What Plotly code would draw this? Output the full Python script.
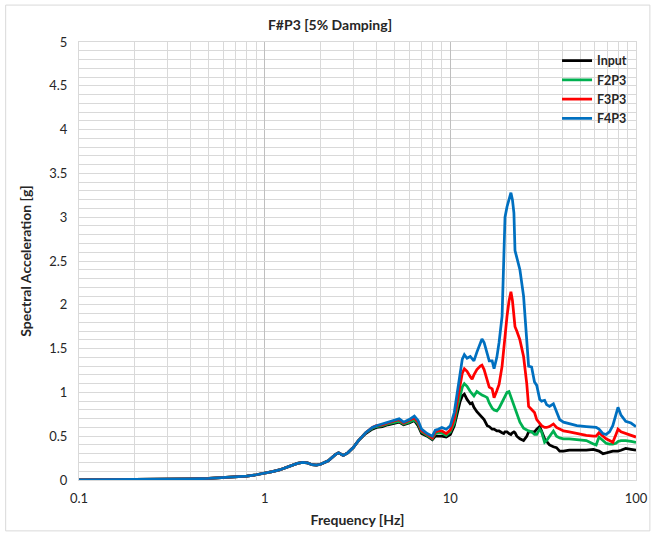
import plotly.graph_objects as go

# ---------------- data ----------------
freq_hz = [
    0.1, 0.15, 0.2, 0.3, 0.4, 0.5, 0.6, 0.7, 0.8, 0.9,
    1.0, 1.1, 1.2, 1.3, 1.4, 1.5, 1.6, 1.7, 1.8, 1.9,
    2.0, 2.2, 2.4, 2.5, 2.65, 2.8, 3.0, 3.2, 3.5, 3.8,
    4.0, 4.3, 4.6, 5.0, 5.3, 5.6, 6.0, 6.4, 6.7, 7.0,
    7.5, 8.0, 8.3, 8.6,
    9.0, 9.5, 10.0, 10.5, 10.9, 11.3, 11.6, 11.9, 12.3, 12.8,
    13.1, 13.4, 13.9, 14.5, 14.8, 15.2, 15.8, 16.2, 16.8, 17.2,
    17.8, 18.3, 19.0, 19.4, 19.7, 20.2, 20.7, 21.2, 21.6, 22.0,
    22.3, 22.8, 23.7, 24.8, 25.8, 26.4, 27.4, 28.4, 29.2, 30.3,
    31.0, 32.2, 33.0, 34.2, 35.9, 37.3, 38.8, 40.7, 43.7, 48.0,
    54.0, 59.0, 61.0, 63.2, 66.4, 69.0, 72.0, 75.0, 78.0, 80.0,
    83.0, 88.0, 94.0, 100.0,
]

input_g = [
    0.002, 0.003, 0.005, 0.008, 0.012, 0.018, 0.026, 0.035, 0.045, 0.060,
    0.075, 0.095, 0.115, 0.14, 0.165, 0.19, 0.20, 0.195, 0.175, 0.17,
    0.18, 0.22, 0.29, 0.31, 0.28, 0.31, 0.37, 0.45, 0.53, 0.58,
    0.60, 0.61, 0.63, 0.65, 0.66, 0.63, 0.65, 0.68, 0.62, 0.53,
    0.50, 0.46, 0.50, 0.50,
    0.50, 0.49, 0.52, 0.62, 0.78, 0.90, 0.96, 0.98, 0.92, 0.87,
    0.88, 0.83, 0.78, 0.74, 0.71, 0.69, 0.62, 0.61, 0.58, 0.58,
    0.56, 0.56, 0.54, 0.53, 0.55, 0.55, 0.53, 0.52, 0.54, 0.55,
    0.54, 0.50, 0.47, 0.45, 0.50, 0.55, 0.55, 0.55, 0.58, 0.61,
    0.56, 0.47, 0.44, 0.40, 0.38, 0.37, 0.33, 0.33, 0.34, 0.34,
    0.34, 0.35, 0.34, 0.33, 0.30, 0.31, 0.32, 0.33, 0.33, 0.33,
    0.34, 0.36, 0.35, 0.34,
]

f2p3_g = [
    0.002, 0.003, 0.005, 0.008, 0.012, 0.018, 0.026, 0.035, 0.045, 0.060,
    0.075, 0.095, 0.115, 0.14, 0.165, 0.19, 0.20, 0.195, 0.175, 0.17,
    0.18, 0.22, 0.29, 0.31, 0.28, 0.31, 0.37, 0.45, 0.54, 0.59,
    0.61, 0.62, 0.64, 0.66, 0.67, 0.64, 0.66, 0.69, 0.64, 0.55,
    0.51, 0.47, 0.53, 0.54,
    0.54, 0.51, 0.55, 0.65, 0.83, 0.98, 1.06, 1.10, 1.07, 1.01,
    0.99, 0.96, 1.01, 0.98, 0.97, 0.96, 0.94, 0.88, 0.82, 0.80,
    0.79, 0.82, 0.89, 0.94, 0.96, 1.00, 1.01, 0.95, 0.89, 0.84,
    0.81, 0.75, 0.66, 0.59, 0.57, 0.56, 0.55, 0.52, 0.52, 0.58,
    0.55, 0.43, 0.45, 0.50, 0.56, 0.50, 0.48, 0.47, 0.47, 0.46,
    0.45, 0.41, 0.40, 0.49, 0.45, 0.42, 0.41, 0.41, 0.42, 0.44,
    0.45, 0.45, 0.44, 0.43,
]

f3p3_g = [
    0.002, 0.003, 0.005, 0.008, 0.012, 0.018, 0.026, 0.035, 0.045, 0.060,
    0.075, 0.095, 0.115, 0.14, 0.165, 0.19, 0.20, 0.195, 0.175, 0.17,
    0.18, 0.22, 0.29, 0.31, 0.28, 0.31, 0.37, 0.45, 0.54, 0.60,
    0.62, 0.63, 0.65, 0.67, 0.69, 0.65, 0.68, 0.71, 0.66, 0.56,
    0.52, 0.48, 0.55, 0.56,
    0.56, 0.53, 0.57, 0.70, 0.90, 1.10, 1.22, 1.27, 1.24, 1.18,
    1.15, 1.20, 1.26, 1.30, 1.31, 1.26, 1.15, 1.06, 1.04, 0.94,
    1.02, 1.09, 1.30, 1.49, 1.70, 1.87, 2.04, 2.15, 2.05, 1.85,
    1.75, 1.70, 1.60, 1.41, 1.10, 0.84, 0.80, 0.77, 0.69, 0.64,
    0.62, 0.60, 0.60, 0.61, 0.64, 0.60, 0.58, 0.56, 0.55, 0.53,
    0.51, 0.50, 0.50, 0.54, 0.50, 0.47, 0.45, 0.43, 0.52, 0.58,
    0.55, 0.53, 0.51, 0.49,
]

f4p3_g = [
    0.002, 0.003, 0.005, 0.008, 0.012, 0.018, 0.026, 0.035, 0.045, 0.060,
    0.075, 0.095, 0.115, 0.14, 0.165, 0.19, 0.20, 0.195, 0.175, 0.17,
    0.18, 0.22, 0.29, 0.31, 0.28, 0.31, 0.37, 0.45, 0.54, 0.60,
    0.62, 0.64, 0.66, 0.68, 0.70, 0.66, 0.69, 0.73, 0.68, 0.58,
    0.53, 0.50, 0.57, 0.58,
    0.60, 0.58, 0.62, 0.77, 1.00, 1.25, 1.38, 1.43, 1.39, 1.41,
    1.38, 1.36, 1.46, 1.55, 1.61, 1.57, 1.45, 1.36, 1.36, 1.27,
    1.40, 1.57, 1.87, 2.40, 3.00, 3.12, 3.20, 3.28, 3.20, 3.05,
    2.62, 2.55, 2.40, 2.10, 1.64, 1.30, 1.29, 1.12, 1.08, 0.92,
    0.90, 0.91, 0.86, 0.84, 0.87, 0.78, 0.69, 0.66, 0.64, 0.62,
    0.61, 0.60, 0.60, 0.58, 0.53, 0.52, 0.55, 0.62, 0.75, 0.83,
    0.74, 0.67, 0.65, 0.61,
]

series_names = ["Input", "F2P3", "F3P3", "F4P3"]
series_colors = ["#000000", "#00B050", "#FF0000", "#0070C0"]

x_tick_vals = [0.1, 1, 10, 100]
x_tick_text = ["0.1", "1", "10", "100"]
y_tick_vals = [0, 0.5, 1, 1.5, 2, 2.5, 3, 3.5, 4, 4.5, 5]
y_tick_text = ["0", "0.5", "1", "1.5", "2", "2.5", "3", "3.5", "4", "4.5", "5"]

# ---------------- figure ----------------
FONT = "Lato, 'Open Sans', 'DejaVu Sans', sans-serif"
GRID = "#d9d9d9"
TXT = "#262626"

fig = go.Figure()
for name, vals, col in zip(series_names, [input_g, f2p3_g, f3p3_g, f4p3_g], series_colors):
    fig.add_trace(go.Scatter(
        x=freq_hz, y=vals, name=name, mode="lines",
        line=dict(color=col, width=2.75),
    ))

W, H = 660, 537
L, R, T, B = 79, 19, 42, 56
pw, ph = W - L - R, H - T - B

fig.update_layout(
    width=W, height=H,
    margin=dict(l=L, r=R, t=T, b=B, pad=0),
    paper_bgcolor="white", plot_bgcolor="white",
    font=dict(family=FONT, size=13, color=TXT),
    title=dict(
        text="<b>F#P3 [5% Damping]</b>",
        x=0.5, xref="container", xanchor="center",
        y=1 - 25 / H, yref="container", yanchor="middle",
        font=dict(family=FONT, size=14, color=TXT),
    ),
    showlegend=True,
    legend=dict(
        x=(637 - L) / pw, y=(481 - 46) / ph, xanchor="right", yanchor="top",
        bgcolor="rgba(255,255,255,0)", borderwidth=0,
        font=dict(family=FONT, size=12.5, color=TXT, weight="bold"),
        itemwidth=30, tracegroupgap=0,
    ),
    xaxis=dict(
        type="log", range=[-1, 2],
        tickvals=x_tick_vals, ticktext=x_tick_text,
        showgrid=True, gridcolor="#bfbfbf", gridwidth=1,
        minor=dict(dtick="D1", showgrid=True, gridcolor=GRID, gridwidth=1, ticks=""),
        zeroline=False, showline=True, linecolor=GRID, mirror=True,
        ticks="", ticklabelstandoff=6,
        title=dict(text="<b>Frequency [Hz]</b>", standoff=10,
                   font=dict(family=FONT, size=14, color=TXT)),
    ),
    yaxis=dict(
        range=[0, 5],
        tickvals=y_tick_vals, ticktext=y_tick_text,
        showgrid=True, gridcolor=GRID, gridwidth=1,
        minor=dict(dtick=0.1, showgrid=True, gridcolor=GRID, gridwidth=1, ticks=""),
        zeroline=False, showline=True, linecolor=GRID, mirror=True,
        ticks="", ticklabelstandoff=8,
        title=dict(text="<b>Spectral Acceleration [g]</b>", standoff=14,
                   font=dict(family=FONT, size=14, color=TXT)),
    ),
)

# light chart-area border (Excel style)
fig.add_shape(
    type="rect", xref="paper", yref="paper",
    x0=(5 - L) / pw, x1=(655 - L) / pw,
    y0=(H - B - 532) / ph, y1=(H - B - 5) / ph,
    line=dict(color=GRID, width=1), fillcolor="rgba(0,0,0,0)", layer="below",
)

fig.write_html(
    "out.html",
    config={"displayModeBar": False},
    post_script="document.body.style.margin='0';document.body.style.overflow='hidden';",
)
